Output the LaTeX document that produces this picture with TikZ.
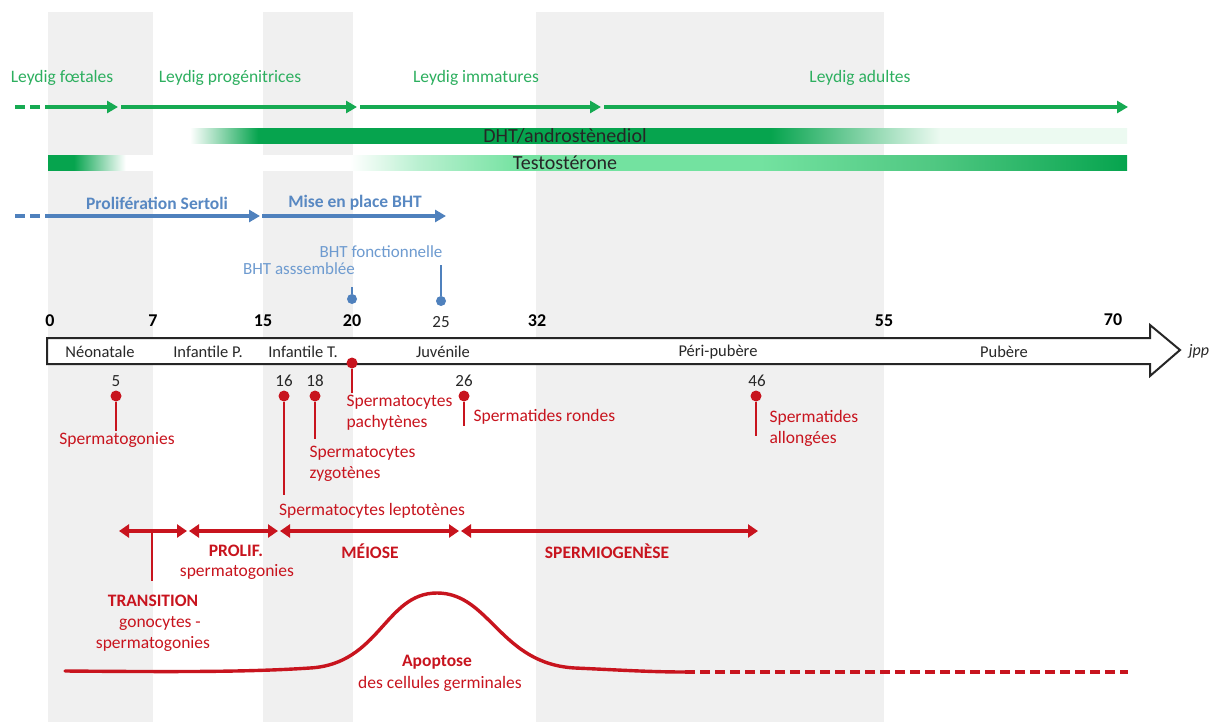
\documentclass[tikz,border=0pt]{standalone}
\usepackage{fontspec}
\setmainfont{Carlito}
\usetikzlibrary{arrows.meta}
\definecolor{bandgray}{RGB}{240,240,240}
\definecolor{leyarr}{RGB}{22,170,82}
\definecolor{leytxt}{RGB}{45,175,95}
\definecolor{dkgreen}{RGB}{6,164,78}
\definecolor{ltgreen}{RGB}{115,226,160}
\definecolor{pale}{RGB}{236,250,241}
\definecolor{tmid}{RGB}{185,240,208}
\definecolor{tdk}{RGB}{80,200,130}
\definecolor{sblue}{RGB}{79,129,189}
\definecolor{sbluet}{RGB}{88,136,194}
\definecolor{lblue}{RGB}{110,155,208}
\definecolor{sred}{RGB}{200,20,30}
\definecolor{tgray}{RGB}{40,40,40}
\pgfdeclarehorizontalshading{dhtshade}{100bp}{color(0bp)=(white); color(25bp)=(white); color(26.9bp)=(white); color(30.4bp)=(dkgreen); color(56.7bp)=(dkgreen); color(65.4bp)=(pale); color(75bp)=(pale); color(100bp)=(pale)}
\pgfdeclarehorizontalshading{tesshade}{100bp}{color(0bp)=(dkgreen); color(25bp)=(dkgreen); color(26.2bp)=(dkgreen); color(28.6bp)=(white); color(39bp)=(white); color(42.2bp)=(tmid); color(46.9bp)=(ltgreen); color(58bp)=(ltgreen); color(66bp)=(tdk); color(75bp)=(dkgreen); color(100bp)=(dkgreen)}
\tikzset{
  fs/.style={font=\fontsize{#1}{#1}\selectfont},
  gtext/.style={text=leytxt, fs=17.5},
  garrow/.style={draw=leyarr, line width=3.4pt, -{Triangle[length=11pt,width=12pt]}},
  gdash/.style={draw=leyarr, line width=3.4pt, dash pattern=on 10pt off 5pt},
  btext/.style={text=sbluet, font=\fontsize{17.5}{17.5}\selectfont\bfseries},
  barrow/.style={draw=sblue, line width=3.4pt, -{Triangle[length=11pt,width=12pt]}},
  bdash/.style={draw=sblue, line width=3.4pt, dash pattern=on 10pt off 5pt},
  ltext/.style={text=lblue, fs=17},
  bpin/.style={draw=sblue, line width=2pt},
  bdot/.style={fill=sblue, circle, inner sep=0pt, minimum size=10pt},
  numb/.style={text=black, font=\fontsize{18}{18}\selectfont\bfseries},
  numr/.style={text=tgray, fs=17},
  phase/.style={text=tgray, fs=16.5},
  rtext/.style={text=sred, align=left, font=\fontsize{17.5}{21}\selectfont},
  rbold/.style={text=sred, font=\fontsize{17.5}{17.5}\selectfont\bfseries},
  rpin/.style={draw=sred, line width=2.4pt},
  rdot/.style={fill=sred, circle, inner sep=0pt, minimum size=11pt},
  rarrow/.style={draw=sred, line width=3.2pt, {Triangle[length=10pt,width=13pt]}-{Triangle[length=10pt,width=13pt]}},
  band/.style={fill=bandgray, draw=none},
  barlabel/.style={text=black!85, font=\fontsize{20}{20}\selectfont},
}
\begin{document}
\begin{tikzpicture}[x=1pt,y=-1pt]
\useasboundingbox (0,0) rectangle (1217,722);
\fill[white] (0,0) rectangle (1217,722);
% gray bands
\fill[band] (48,12) rectangle (153,722);
\fill[band] (263,12) rectangle (353,722);
\fill[band] (536,12) rectangle (884,722);

% Leydig
\node[gtext] (lf) at (62,78) {Leydig fœtales};
\node[gtext] (lp) at (230,78) {Leydig progénitrices};
\node[gtext] (li) at (476,78) {Leydig immatures};
\node[gtext] (la) at (860,78) {Leydig adultes};
\coordinate (g0) at (15,107);
\coordinate (g1) at (48,107);
\coordinate (g2) at (118,107);
\coordinate (g3) at (121,107);
\coordinate (g4) at (357,107);
\coordinate (g5) at (360,107);
\coordinate (g6) at (601,107);
\coordinate (g7) at (604,107);
\coordinate (g8) at (1128,107);
\draw[gdash] (g0) -- (g1);
\draw[garrow] (g1) -- (g2);
\draw[garrow] (g3) -- (g4);
\draw[garrow] (g5) -- (g6);
\draw[garrow] (g7) -- (g8);

% DHT bar
\shade[shading=dhtshade] (153,129) rectangle (1127,144);
\node[barlabel] (dht) at (565,136) {DHT/androstènediol};

% Testosterone bar
\shade[shading=tesshade] (48,156) rectangle (1127,171);
\node[barlabel] (tes) at (565,163) {Testostérone};

% Sertoli
\node[btext] (ps) at (157,203) {Prolifération Sertoli};
\node[btext] (mp) at (355,203) {Mise en place BHT};
\coordinate (b0) at (15,216);
\coordinate (b1) at (48,216);
\coordinate (b2) at (260,216);
\coordinate (b3) at (262,216);
\coordinate (b4) at (446,216);
\draw[bdash] (b0) -- (b1);
\draw[barrow] (b1) -- (b2);
\draw[barrow] (b3) -- (b4);
\node[ltext] (bf) at (381,252) {BHT fonctionnelle};
\node[ltext] (ba) at (299,269) {BHT asssemblée};
\node[bdot] (bd25) at (441,301) {};
\node[bdot] (bd20) at (352,299) {};
\coordinate (bt25) at (441,265);
\coordinate (bt20) at (352,287);
\draw[bpin] (bt25) -- (bd25);
\draw[bpin] (bt20) -- (bd20);

% tick numbers
\node[numb] (n0) at (50,321) {0};
\node[numb] (n7) at (153,321) {7};
\node[numb] (n15) at (263,321) {15};
\node[numb] (n20) at (352,321) {20};
\node[numr] (n25) at (441,322) {25};
\node[numb] (n32) at (537,321) {32};
\node[numb] (n55) at (884,321) {55};
\node[numb] (n70) at (1113,320) {70};

% timeline arrow
\draw[line width=2pt, fill=white, draw=black!85, line join=miter]
  (47,338) -- (1150,338) -- (1150,325) -- (1180,350) -- (1150,376) -- (1150,364) -- (47,364) -- cycle;
\node[text=tgray, font=\fontsize{16}{16}\selectfont\itshape] (jpp) at (1199,351) {jpp};
\node[phase] (ph1) at (100,352) {Néonatale};
\node[phase] (ph2) at (208,352) {Infantile P.};
\node[phase] (ph3) at (303,352) {Infantile T.};
\node[phase] (ph4) at (443,352) {Juvénile};
\node[phase] (ph5) at (718,352) {Péri-pubère};
\node[phase] (ph6) at (1004,352) {Pubère};

% red pins
\node[numr] (r5) at (116,381) {5};
\node[numr] (r16) at (284,381) {16};
\node[numr] (r18) at (315,381) {18};
\node[numr] (r26) at (464,381) {26};
\node[numr] (r46) at (757,381) {46};
\node[rdot] (d5) at (116,396) {};
\node[rdot] (d16) at (284,396) {};
\node[rdot] (d18) at (315,396) {};
\node[rdot] (d20) at (352,363) {};
\node[rdot] (d26) at (464,396) {};
\node[rdot] (d46) at (756,396) {};
\coordinate (e5) at (116,431);
\coordinate (e16) at (284,495);
\coordinate (e18) at (315,439);
\coordinate (e20) at (352,393);
\coordinate (e26) at (464,426);
\coordinate (e46) at (756,436);
\draw[rpin] (d5) -- (e5);
\draw[rpin] (d16) -- (e16);
\draw[rpin] (d18) -- (e18);
\draw[rpin] (d20) -- (e20);
\draw[rpin] (d26) -- (e26);
\draw[rpin] (d46) -- (e46);
\node[rtext] (t5) at (117,440) {Spermatogonies};
\node[rtext] (t16) at (372,511) {Spermatocytes leptotènes};
\node[rtext, anchor=west] (t18) at (306,464) {Spermatocytes\\zygotènes};
\node[rtext, anchor=west] (t20) at (343,413) {Spermatocytes\\pachytènes};
\node[rtext, anchor=west] (t26) at (470,417) {Spermatides rondes};
\node[rtext, anchor=west] (t46) at (766,428) {Spermatides\\allongées};

% red double arrows
\coordinate (a0) at (119,531);
\coordinate (a1) at (187,531);
\coordinate (a2) at (189,531);
\coordinate (a3) at (278,531);
\coordinate (a4) at (280,531);
\coordinate (a5) at (459,531);
\coordinate (a6) at (461,531);
\coordinate (a7) at (758,531);
\draw[rarrow] (a0) -- (a1);
\draw[rarrow] (a2) -- (a3);
\draw[rarrow] (a4) -- (a5);
\draw[rarrow] (a6) -- (a7);
\coordinate (v0) at (152,531);
\coordinate (v1) at (152,581);
\draw[rpin] (v0) -- (v1);
\node[rbold] (prolif) at (236,551) {PROLIF.};
\node[rtext] (prolif2) at (237,572) {spermatogonies};
\node[rbold] (meiose) at (370,551) {MÉIOSE};
\node[rbold] (spermio) at (607,551) {SPERMIOGENÈSE};
\node[rbold] (trans) at (153,601) {TRANSITION};
\node[rtext] (trans2) at (160,623) {gonocytes -};
\node[rtext] (trans3) at (153,644) {spermatogonies};

% apoptosis curve
\coordinate (c0) at (65,671);
\coordinate (c1) at (310,668);
\coordinate (cp) at (437,593);
\coordinate (c2) at (575,668);
\coordinate (c3) at (685,672);
\coordinate (c4) at (1128,672);
\draw[sred, line width=3.4pt, line cap=round]
  (c0) .. controls (180,672) and (250,672) .. (c1)
  .. controls (380,664) and (385,593) .. (cp)
  .. controls (490,593) and (500,664) .. (c2)
  .. controls (620,670) and (650,672) .. (c3);
\draw[sred, line width=3.4pt, dash pattern=on 10pt off 5pt] (c3) -- (c4);
\node[rbold] (apo) at (437,662) {Apoptose};
\node[rtext] (apo2) at (440,684) {des cellules germinales};
\end{tikzpicture}
\end{document}
